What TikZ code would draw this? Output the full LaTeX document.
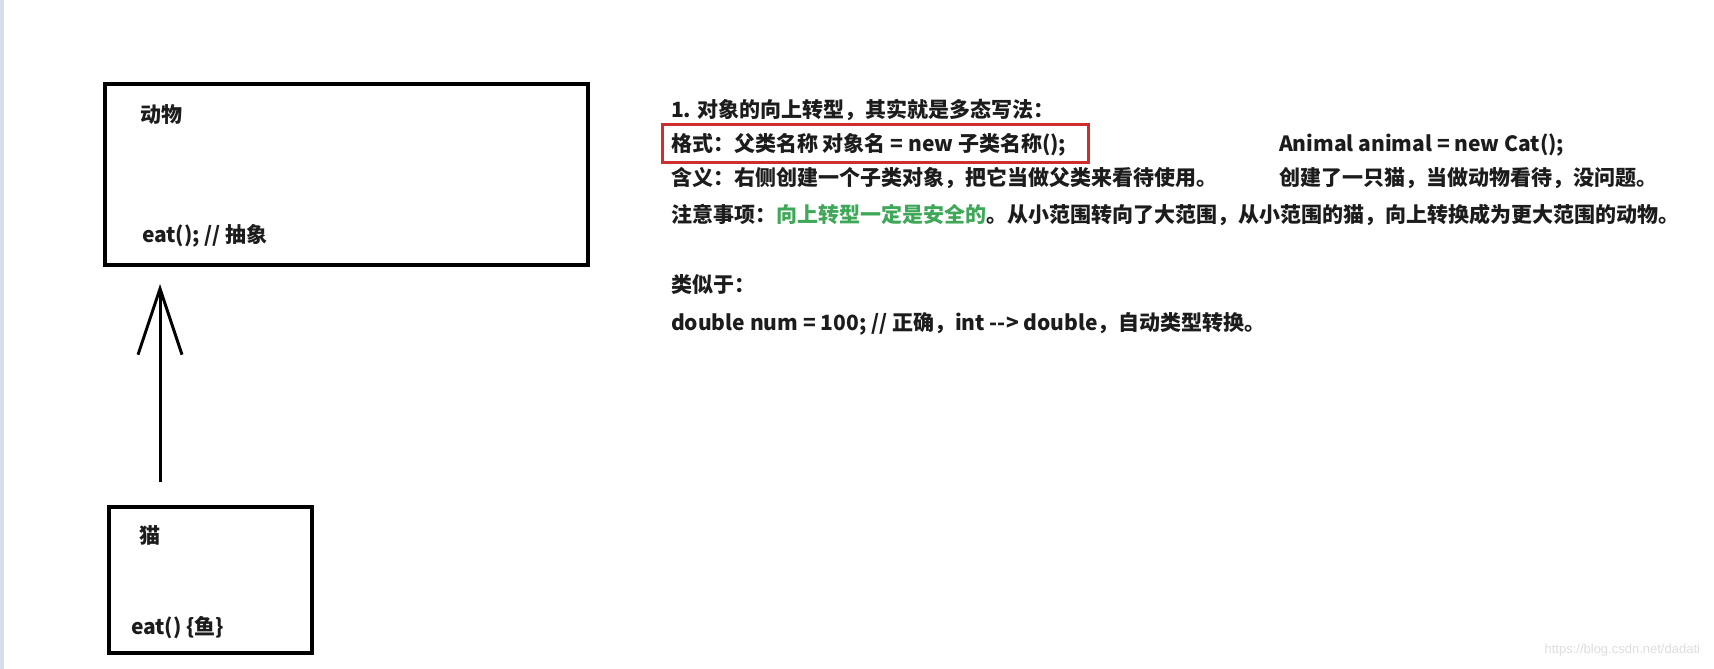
\documentclass[tikz,border=0pt]{standalone}
\usepackage{fontspec}
\setmainfont{Noto Sans CJK SC}
\newfontfamily\markfont{Liberation Sans}
\usepackage{xcolor}
\usetikzlibrary{
  arrows.meta
}
\definecolor{inkgray}{RGB}{28,28,28}
\definecolor{boxred}{RGB}{208,46,46}
\definecolor{safegreen}{RGB}{62,168,88}
\definecolor{edgeblue}{RGB}{214,222,236}
\definecolor{markgray}{RGB}{222,222,222}

\begin{document}
\begin{tikzpicture}[
  x=0.5pt, y=-0.5pt,
  every node/.style = {inner sep=0pt, outer sep=0pt, text=inkgray,
    font=\fontsize{10.5pt}{12pt}\selectfont\bfseries},
  classbox/.style = {draw=black, line width=2pt, rectangle},
  label/.style = {anchor=base west}]
  \tikzstyle{formatbox}=[draw=boxred, line width=1.5pt, rectangle,
    minimum width=213pt, minimum height=19pt]
  \tikzstyle{upcast}=[line width=1.5pt,
    -{Straight Barb[length=33pt, width=22pt, line width=1.5pt]}]

  \useasboundingbox (0,0) rectangle (1714,669);
  \fill[white] (0,0) rectangle (1714,669);
  \fill[edgeblue] (0,0) rectangle (4,669);

  % classes
  \node[classbox, minimum width=241.5pt, minimum height=90.5pt]
    (animal) at (346.5,174.5) {};
  \node[label] (animalname) at (140,122) {动物};
  \node[label] (animaleat) at (142,242) {eat(); // 抽象};

  \node[classbox, minimum width=101.5pt, minimum height=73pt]
    (cat) at (210.5,580) {};
  \node[label] (catname) at (139,543) {猫};
  \node[label] (cateat) at (131,634) {eat() \{鱼\}};

  \coordinate (tail) at (160,482);
  \coordinate (head) at (160,284);
  \draw[upcast] (tail) -- (head);

  % notes
  \node[label] (title) at (671,117) {1. 对象的向上转型，其实就是多态写法：};
  \node[formatbox] (formatframe) at (875,143) {};
  \node[label] (format) at (671,151) {格式：父类名称 对象名 = new 子类名称();};
  \node[label] (example) at (1279,151) {Animal animal = new Cat();};
  \node[label] (meaning) at (671,185) {含义：右侧创建一个子类对象，把它当做父类来看待使用。};
  \node[label] (catnote) at (1279,185) {创建了一只猫，当做动物看待，没问题。};
  \node[label] (caution) at (671,222)
    {注意事项：\textcolor{safegreen}{向上转型一定是安全的}。从小范围转向了大范围，从小范围的猫，向上转换成为更大范围的动物。};
  \node[label] (similar) at (671,292) {类似于：};
  \node[label] (double) at (671,330)
    {double num = 100; // 正确，int -\kern0pt-\kern0pt> double，自动类型转换。};

  \node[anchor=base east, text=markgray, font=\markfont\fontsize{6.5pt}{8pt}\selectfont]
    (mark) at (1700,653) {https://blog.csdn.net/dadati};
\end{tikzpicture}
\end{document}
